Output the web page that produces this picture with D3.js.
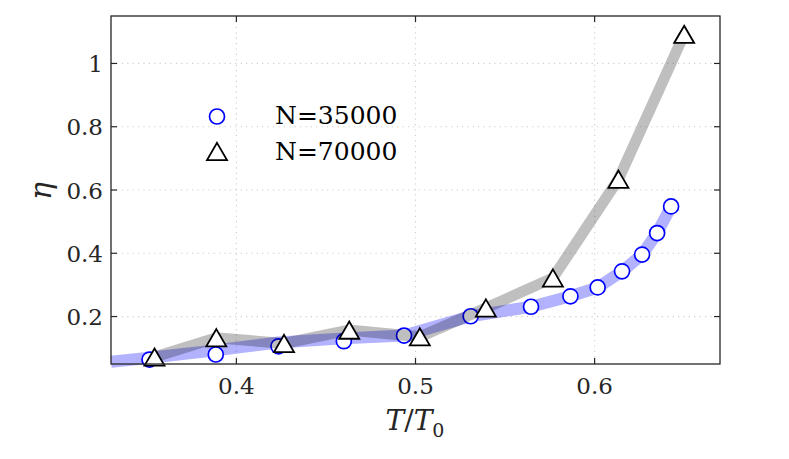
<!DOCTYPE html>
<html>
<head>
<meta charset="utf-8">
<script src="https://cdn.jsdelivr.net/npm/d3@7"></script>
<style>
  html, body { margin: 0; padding: 0; background: #fff; }
  svg { display: block; }
</style>
</head>
<body>
<svg id="chart" width="789" height="459" font-family="'DejaVu Serif', 'Liberation Serif', serif"></svg>
<script>
// ---- data ----
const circleX = [0.3515, 0.3885, 0.4235, 0.4600, 0.4936, 0.5308, 0.5645, 0.5865, 0.6017, 0.6153, 0.6265, 0.6349, 0.6427];
const circleY = [0.064, 0.080, 0.106, 0.122, 0.140, 0.201, 0.231, 0.264, 0.292, 0.343, 0.396, 0.464, 0.548];
const triX = [0.3543, 0.3888, 0.4266, 0.4630, 0.5024, 0.5393, 0.5767, 0.6133, 0.6500];
const triY = [0.072, 0.133, 0.115, 0.157, 0.136, 0.227, 0.322, 0.634, 1.092];
const blueBandX = [0.330, 0.3515, 0.3885, 0.4235, 0.4600, 0.4936, 0.5308, 0.5645, 0.5865, 0.6017, 0.6153, 0.6265, 0.6349, 0.6427];
const blueBandY = [0.057, 0.070, 0.093, 0.118, 0.131, 0.140, 0.201, 0.231, 0.264, 0.292, 0.343, 0.396, 0.464, 0.548];
const xTicks = [0.4, 0.5, 0.6];
const yTicks = [0.2, 0.4, 0.6, 0.8, 1];
const seriesLabels = ["N=35000", "N=70000"];

// ---- layout ----
const L = 111, R = 720, T = 16, B = 364;
const svg = d3.select("#chart");
const x = d3.scaleLinear().domain([0.33, 0.67]).range([L, R]);
const y = d3.scaleLinear().domain([0.05, 1.15]).range([B, T]);
const axisColor = "#262626";

// grid
const grid = svg.append("g");
grid.selectAll("line.gx").data(xTicks).join("line")
  .attr("x1", d => x(d)).attr("x2", d => x(d)).attr("y1", T).attr("y2", B)
  .attr("stroke", "#cfcfcf").attr("stroke-width", 1.2).attr("stroke-dasharray", "1.2,4.2");
grid.selectAll("line.gy").data(yTicks).join("line")
  .attr("y1", d => y(d)).attr("y2", d => y(d)).attr("x1", L).attr("x2", R)
  .attr("stroke", "#cfcfcf").attr("stroke-width", 1.2).attr("stroke-dasharray", "1.2,4.2");

const line = d3.line().x(d => x(d[0])).y(d => y(d[1]));

// blue band
svg.append("path")
  .attr("d", line(blueBandX.map((v, i) => [v, blueBandY[i]])))
  .attr("fill", "none").attr("stroke", "rgba(0,0,255,0.3)").attr("stroke-width", 12)
  .attr("stroke-linejoin", "round");

// circles
svg.append("g").selectAll("circle").data(circleX.map((v, i) => [v, circleY[i]])).join("circle")
  .attr("cx", d => x(d[0])).attr("cy", d => y(d[1])).attr("r", 7.5)
  .attr("fill", "#fff").attr("stroke", "#0000ff").attr("stroke-width", 1.7);

// gray band
svg.append("path")
  .attr("d", line(triX.map((v, i) => [v, triY[i]])))
  .attr("fill", "none").attr("stroke", "rgba(0,0,0,0.25)").attr("stroke-width", 11)
  .attr("stroke-linejoin", "miter");

// triangles
const triPath = (cx, cy) => {
  const w = 10, h = 8.6;
  return `M${cx},${cy - h}L${cx + w},${cy + h}L${cx - w},${cy + h}Z`;
};
svg.append("g").selectAll("path").data(triX.map((v, i) => [v, triY[i]])).join("path")
  .attr("d", d => triPath(x(d[0]), y(d[1])))
  .attr("fill", "#fff").attr("stroke", "#000").attr("stroke-width", 1.8).attr("stroke-linejoin", "miter");

// frame
svg.append("rect").attr("x", L).attr("y", T).attr("width", R - L).attr("height", B - T)
  .attr("fill", "none").attr("stroke", axisColor).attr("stroke-width", 1.3);

// ticks (inside, all four sides)
const tk = 6;
const ticks = svg.append("g").attr("stroke", axisColor).attr("stroke-width", 1.2);
xTicks.forEach(t => {
  ticks.append("line").attr("x1", x(t)).attr("x2", x(t)).attr("y1", B).attr("y2", B - tk);
  ticks.append("line").attr("x1", x(t)).attr("x2", x(t)).attr("y1", T).attr("y2", T + tk);
});
yTicks.forEach(t => {
  ticks.append("line").attr("y1", y(t)).attr("y2", y(t)).attr("x1", L).attr("x2", L + tk);
  ticks.append("line").attr("y1", y(t)).attr("y2", y(t)).attr("x1", R).attr("x2", R - tk);
});

// tick labels
const fmt = d3.format("~g");
svg.append("g").selectAll("text").data(xTicks).join("text")
  .attr("x", d => x(d)).attr("y", 394).attr("text-anchor", "middle")
  .attr("font-size", 23).attr("fill", axisColor).text(fmt);
svg.append("g").selectAll("text").data(yTicks).join("text")
  .attr("x", 103).attr("y", d => y(d) + 8.5).attr("text-anchor", "end")
  .attr("font-size", 23).attr("fill", axisColor).text(fmt);

// axis labels
const xl = svg.append("text").attr("x", 415).attr("y", 430).attr("text-anchor", "middle")
  .attr("font-size", 28).attr("fill", axisColor);
xl.append("tspan").attr("font-style", "italic").text("T");
xl.append("tspan").text("/");
xl.append("tspan").attr("font-style", "italic").text("T");
xl.append("tspan").attr("font-size", 19).attr("dy", 7).text("0");

svg.append("text").attr("transform", "translate(51,191) rotate(-90)")
  .attr("text-anchor", "middle").attr("font-size", 30).attr("font-style", "italic")
  .attr("fill", axisColor).text("η");

// legend
const lg = svg.append("g");
lg.append("circle").attr("cx", 217).attr("cy", 116.5).attr("r", 7.5)
  .attr("fill", "#fff").attr("stroke", "#0000ff").attr("stroke-width", 1.7);
lg.append("path").attr("d", triPath(217, 151.5))
  .attr("fill", "#fff").attr("stroke", "#000").attr("stroke-width", 1.8);
[124, 160].forEach((by, i) => {
  const parts = seriesLabels[i].split("=");
  const t = lg.append("text").attr("x", 275).attr("y", by).attr("font-size", 25).attr("fill", "#000");
  t.append("tspan").text(parts[0]);
  t.append("tspan").text("=");
  t.append("tspan").text(parts[1]);
});
</script>
</body>
</html>
